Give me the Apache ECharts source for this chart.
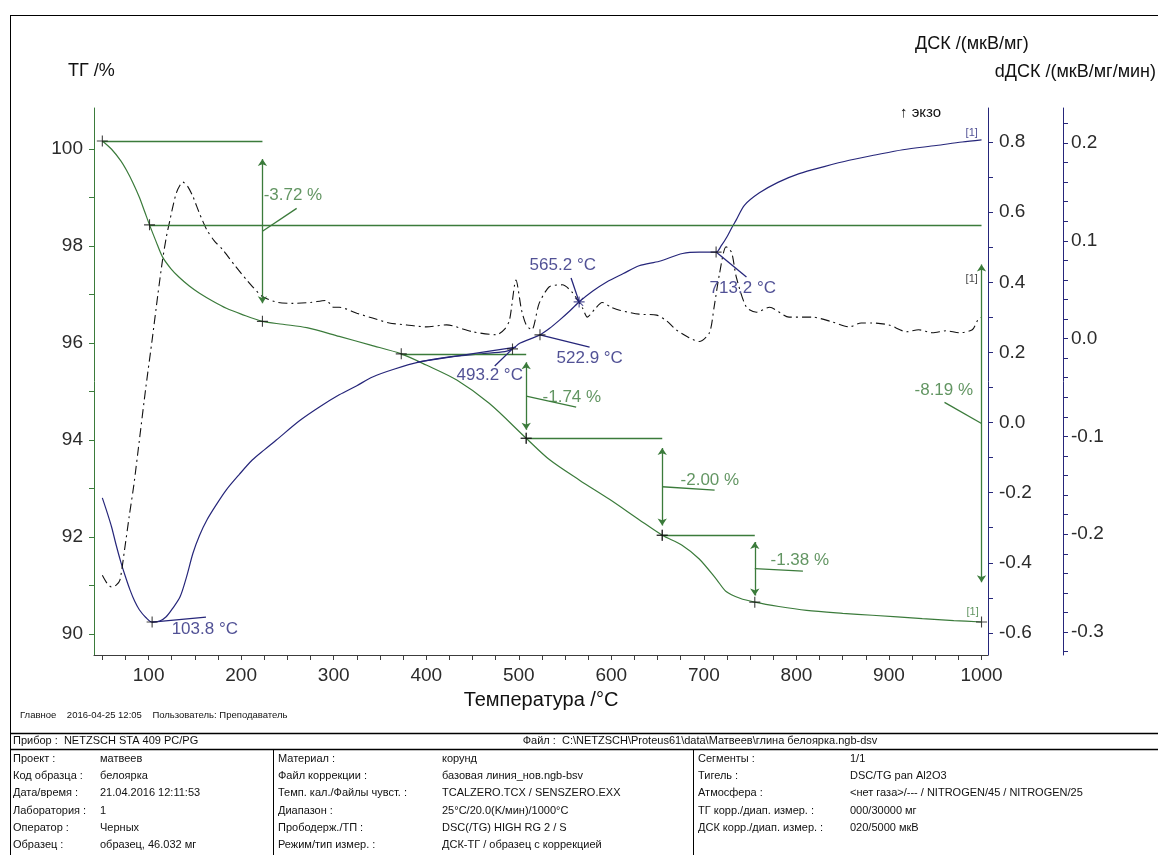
<!DOCTYPE html>
<html>
<head>
<meta charset="utf-8">
<script src="https://cdn.jsdelivr.net/npm/echarts@6/dist/echarts.min.js"></script>
<style>
html,body{margin:0;padding:0;background:#fff;}
#chart{width:1158px;height:855px;}
</style>
</head>
<body>
<div id="chart"></div>
<script>
// ---- measured curves ----
const tgTemp = [50, 60, 70, 76, 83, 90, 96, 101, 108, 115, 124, 133, 144, 155, 170, 184, 200, 223, 245, 271,
  306, 340, 373, 400, 433, 468, 508, 533, 566, 598, 630, 655, 676, 695, 714, 724, 739, 755, 781, 811,
  850, 882, 936, 970, 1000];
const tgMass = [100.17, 100.00, 99.76, 99.57, 99.31, 99.01, 98.70, 98.44, 98.10, 97.78, 97.54, 97.36, 97.18, 97.03, 96.86, 96.72, 96.60, 96.45, 96.39, 96.32,
  96.14, 95.96, 95.78, 95.55, 95.24, 94.76, 94.04, 93.60, 93.17, 92.78, 92.36, 92.04, 91.84, 91.55, 91.12, 90.88, 90.74, 90.66, 90.57, 90.49,
  90.43, 90.39, 90.32, 90.28, 90.25];

const dscTemp = [50, 55, 60, 65, 70, 75, 80, 85, 90, 97, 103.8, 112, 119, 126, 134, 141, 148, 155, 163, 173,
  184, 198, 212, 225, 238, 263, 285, 306, 325, 342, 365, 393, 425, 460, 485, 493.2, 501, 512, 522.9, 533,
  544, 555, 565.2, 580, 595, 613, 630, 652, 677, 695, 713.2, 719, 725, 730, 735, 744, 760, 780, 803, 830,
  857, 885, 915, 951, 979, 1000];
const dscVal = [-0.215, -0.255, -0.298, -0.350, -0.398, -0.440, -0.478, -0.510, -0.534, -0.556, -0.569, -0.566, -0.554, -0.530, -0.497, -0.440, -0.372, -0.322, -0.278, -0.235,
  -0.192, -0.148, -0.107, -0.078, -0.050, 0.005, 0.045, 0.079, 0.105, 0.130, 0.152, 0.173, 0.187, 0.196, 0.202, 0.210, 0.226, 0.238, 0.250, 0.268,
  0.292, 0.318, 0.344, 0.375, 0.401, 0.425, 0.447, 0.460, 0.482, 0.486, 0.486, 0.505, 0.530, 0.555, 0.578, 0.620, 0.655, 0.685, 0.710, 0.730,
  0.748, 0.763, 0.778, 0.790, 0.800, 0.806];

const ddscTemp = [50, 55, 60, 65, 69, 74, 79, 84, 90, 97, 104, 110, 115, 119, 123, 130, 137, 142, 148, 155,
  163, 171, 180, 193, 206, 223, 240, 256, 275, 292, 300, 306, 325, 342, 360, 379, 400, 422, 450, 476,
  485, 490, 497, 503, 508, 514, 522, 533, 547, 558, 569, 574, 582, 590, 600, 609, 630, 649, 660, 670,
  684, 695, 706, 711, 717, 724, 730, 735, 746, 757, 771, 792, 817, 839, 857, 870, 882, 900, 919, 932,
  947, 962, 976, 990, 996, 1000];
const ddscVal = [-0.242, -0.250, -0.254, -0.252, -0.247, -0.216, -0.182, -0.150, -0.104, -0.050, 0.000, 0.045, 0.080, 0.103, 0.121, 0.149, 0.160, 0.156, 0.145, 0.128,
  0.111, 0.100, 0.091, 0.075, 0.060, 0.043, 0.037, 0.036, 0.037, 0.039, 0.032, 0.032, 0.026, 0.021, 0.016, 0.014, 0.012, 0.014, 0.007, 0.004,
  0.010, 0.019, 0.060, 0.029, 0.014, 0.009, 0.036, 0.053, 0.055, 0.047, 0.031, 0.022, 0.030, 0.037, 0.032, 0.029, 0.025, 0.024, 0.018, 0.009,
  0.001, -0.003, 0.006, 0.032, 0.067, 0.094, 0.088, 0.063, 0.032, 0.027, 0.032, 0.022, 0.022, 0.017, 0.012, 0.016, 0.016, 0.014, 0.007, 0.009,
  0.006, 0.008, 0.006, 0.009, 0.019, 0.022];

// ---- evaluation results ----
// mass-loss steps: start temperature/mass, end temperature/mass
const stepFromT = [50, 373, 508, 655];
const stepFromM = [100.17, 95.78, 94.04, 92.04];
const stepToT = [223, 508, 655, 755];
const stepToM = [96.45, 94.04, 92.04, 90.66];
// overall mass change
const totalFrom = [101, 98.44];
const totalTo = [1000, 90.25];
// DSC characteristic temperatures and signal there
const peakT = [103.8, 493.2, 522.9, 565.2, 713.2];
const peakDsc = [-0.569, 0.210, 0.250, 0.344, 0.486];

// ---- axis ticks ----
const xTickLabels = [100, 200, 300, 400, 500, 600, 700, 800, 900, 1000];
const xTicks = [50, 75, 100, 125, 150, 175, 200, 225, 250, 275, 300, 325, 350, 375, 400, 425, 450, 475, 500,
  525, 550, 575, 600, 625, 650, 675, 700, 725, 750, 775, 800, 825, 850, 875, 900, 925, 950, 975, 1000];
const tgTickLabels = [90, 92, 94, 96, 98, 100];
const tgTicks = [90, 91, 92, 93, 94, 95, 96, 97, 98, 99, 100];
const dscTickLabels = [-0.6, -0.4, -0.2, 0.0, 0.2, 0.4, 0.6, 0.8];
const dscTicks = [-0.6, -0.5, -0.4, -0.3, -0.2, -0.1, 0.0, 0.1, 0.2, 0.3, 0.4, 0.5, 0.6, 0.7, 0.8];
const ddscTickLabels = [-0.3, -0.2, -0.1, 0.0, 0.1, 0.2];
const ddscTicks = [-0.32, -0.3, -0.28, -0.26, -0.24, -0.22, -0.2, -0.18, -0.16, -0.14, -0.12, -0.1, -0.08, -0.06, -0.04, -0.02,
  0.0, 0.02, 0.04, 0.06, 0.08, 0.1, 0.12, 0.14, 0.16, 0.18, 0.2, 0.22];

// ---- styling ----
const GREEN = '#3b7b3b';
const NAVY = '#26267a';
const BLACK = '#111111';
const FONT = '"Liberation Sans", Arial, sans-serif';

const zip = (a, b) => a.map((v, i) => [v, b[i]]);

// placement of the annotation texts / leaders (data coordinates)
const stepNoteLayout = [
  { leaderEnd: [260, 98.78], text: [224.3, 99.05] },
  { leaderEnd: [562, 94.68], text: [525.7, 94.89] },
  { leaderEnd: [711.6, 92.97], text: [674.8, 93.18] },
  { leaderEnd: [807, 91.30], text: [772, 91.53] }
];
const totalNoteLayout = { leaderEnd: [960, 94.78], text: [927.6, 95.03] };
const peakNoteLayout = [
  { leaderEnd: [162, -0.555], text: [124.9, -0.591] },
  { leaderEnd: [474, 0.161], text: [432.8, 0.136] },
  { leaderEnd: [576.5, 0.215], text: [540.8, 0.184] },
  { leaderEnd: [556.5, 0.412], text: [511.7, 0.449] },
  { leaderEnd: [746, 0.415], text: [706.2, 0.384] }
];
const onsetTangent = [[390, 0.172], [497, 0.215]];

const PLUS = 'path://M4.5,0H5.5V10H4.5Z M0,4.5H10V5.5H0Z';
const STAR = 'path://M4.5,0H5.5V10H4.5Z M0,4.5H10V5.5H0Z M1,1.7L1.7,1L9,8.3L8.3,9Z M8.3,1L9,1.7L1.7,9L1,8.3Z';

// green step lines, arrows, leaders and texts
const fmtPct = (d) => d.toFixed(2) + ' %';
const stepLevelLines = [];
const stepArrows = [];
const stepLeaders = [];
const stepTexts = [];
const stepMarks = [];
stepFromT.forEach((t0, i) => {
  const m0 = stepFromM[i], t1 = stepToT[i], m1 = stepToM[i];
  const span = m0 - m1;
  stepLevelLines.push({ coords: [[t0, m0], [t1, m0]] });
  stepArrows.push({ coords: [[t1, m0 - span * 0.1], [t1, m1 + span * 0.1]] });
  stepLeaders.push({ coords: [[t1, (m0 + m1) / 2], stepNoteLayout[i].leaderEnd] });
  stepTexts.push({ value: stepNoteLayout[i].text, name: fmtPct(m1 - m0) });
  stepMarks.push([t0, m0], [t1, m1]);
});
{
  const [t0, m0] = totalFrom, [t1, m1] = totalTo;
  const span = m0 - m1;
  stepLevelLines.push({ coords: [[t0, m0], [t1, m0]] });
  stepArrows.push({ coords: [[t1, m0 - span * 0.1], [t1, m1 + span * 0.1]] });
  stepLeaders.push({ coords: [[t1, (m0 + m1) / 2], totalNoteLayout.leaderEnd] });
  stepTexts.push({ value: totalNoteLayout.text, name: fmtPct(m1 - m0) });
  stepMarks.push([t0, m0], [t1, m1]);
}

// navy DSC evaluation marks
const peakLeaders = peakT.map((t, i) => ({ coords: [[t, peakDsc[i]], peakNoteLayout[i].leaderEnd] }));
peakLeaders.push({ coords: onsetTangent });
const peakTexts = peakT.map((t, i) => ({ value: peakNoteLayout[i].text, name: t.toFixed(1) + ' °C' }));
const peakPlus = peakT.map((t, i) => [t, peakDsc[i]]).filter((p, i) => i !== 3);
const peakStar = [[peakT[3], peakDsc[3]]];

function textSeries(yIdx, data, color, size) {
  return {
    type: 'scatter', yAxisIndex: yIdx, data: data, symbolSize: 0, silent: true, z: 5,
    itemStyle: { color: 'rgba(0,0,0,0)' },
    label: { show: true, position: [0, 0], align: 'left', verticalAlign: 'middle',
      formatter: (p) => p.name, color: color, fontSize: size, fontFamily: FONT }
  };
}
function segSeries(yIdx, data, color, arrows) {
  return {
    type: 'lines', coordinateSystem: 'cartesian2d', xAxisIndex: 0, yAxisIndex: yIdx, data: data,
    silent: true, z: 4,
    symbol: arrows ? ['arrow', 'arrow'] : ['none', 'none'], symbolSize: 7,
    lineStyle: { color: color, width: 1.3, opacity: 1, curveness: 0 }
  };
}
function markSeries(yIdx, data, symbol, color) {
  return {
    type: 'scatter', yAxisIndex: yIdx, data: data, symbol: symbol, symbolSize: 11, silent: true, z: 6,
    itemStyle: { color: color }
  };
}

const tickLabelStyle = { fontSize: 19, fontFamily: FONT, color: '#2b2b2b' };

// ---- page frame and info table ----
const graphics = [];
function hline(x1, x2, y, w) { graphics.push({ type: 'line', silent: true, shape: { x1, y1: y, x2, y2: y }, style: { stroke: '#000', lineWidth: w || 1 } }); }
function vline(x, y1, y2, w) { graphics.push({ type: 'line', silent: true, shape: { x1: x, y1, x2: x, y2 }, style: { stroke: '#000', lineWidth: w || 1 } }); }
function txt(x, y, s, size, color, align) {
  graphics.push({ type: 'text', silent: true, x: x, y: y,
    style: { text: s, fontSize: size, fontFamily: FONT, fill: color || '#000', align: align || 'left', verticalAlign: 'middle' } });
}
hline(10, 1158, 15.5);
vline(10.5, 15, 855);
hline(10, 1158, 733.5, 1.5);
hline(10, 1158, 749.5, 1.5);
vline(273.5, 749, 855);
vline(693.5, 749, 855);

// axis captions
txt(68, 71, 'ТГ /%', 18, '#111');
txt(915, 44, 'ДСК /(мкВ/мг)', 18, '#111');
txt(1156, 72, 'dДСК /(мкВ/мг/мин)', 18, '#111', 'right');
txt(900, 113, '↑ экзо', 15, '#111');
txt(541, 700, 'Температура /°C', 20, '#111', 'center');

// info block
txt(20, 715, 'Главное    2016-04-25 12:05    Пользователь: Преподаватель', 9.5, '#111');
txt(13, 741, 'Прибор :  NETZSCH STA 409 PC/PG', 11, '#111');
txt(700, 741, 'Файл :  C:\\NETZSCH\\Proteus61\\data\\Матвеев\\глина белоярка.ngb-dsv', 11, '#111', 'center');
const infoRows = [
  ['Проект :', 'матвеев', 'Материал :', 'корунд', 'Сегменты :', '1/1'],
  ['Код образца :', 'белоярка', 'Файл коррекции :', 'базовая линия_нов.ngb-bsv', 'Тигель :', 'DSC/TG pan Al2O3'],
  ['Дата/время :', '21.04.2016 12:11:53', 'Темп. кал./Файлы чувст. :', 'TCALZERO.TCX / SENSZERO.EXX', 'Атмосфера :', '<нет газа>/--- / NITROGEN/45 / NITROGEN/25'],
  ['Лаборатория :', '1', 'Диапазон :', '25°C/20.0(K/мин)/1000°C', 'ТГ корр./диап. измер. :', '000/30000 мг'],
  ['Оператор :', 'Черных', 'Прободерж./ТП :', 'DSC(/TG) HIGH RG 2 / S', 'ДСК корр./диап. измер. :', '020/5000 мкВ'],
  ['Образец :', 'образец, 46.032 мг', 'Режим/тип измер. :', 'ДСК-ТГ / образец с коррекцией', '', '']
];
const colX = [13, 100, 278, 442, 698, 850];
infoRows.forEach((row, r) => {
  row.forEach((s, c) => { if (s) txt(colX[c], 759 + r * 17.2, s, 11, '#111'); });
});

const option = {
  animation: false,
  backgroundColor: '#fff',
  grid: { left: 94, right: 170, top: 108, bottom: 200, containLabel: false },
  xAxis: {
    type: 'value', min: 41, max: 1007,
    axisLine: { show: true, onZero: false, lineStyle: { color: '#3c3c3c', width: 1 } },
    axisTick: { show: true, customValues: xTicks, length: 5, lineStyle: { color: '#3c3c3c' } },
    axisLabel: Object.assign({ customValues: xTickLabels, margin: 11, formatter: (v) => String(v) }, tickLabelStyle),
    splitLine: { show: false }
  },
  yAxis: [
    {
      type: 'value', position: 'left', min: 89.57, max: 100.85,
      axisLine: { show: true, onZero: false, lineStyle: { color: GREEN, width: 1 } },
      axisTick: { show: true, customValues: tgTicks, length: 5, lineStyle: { color: GREEN } },
      axisLabel: Object.assign({ customValues: tgTickLabels, margin: 11, formatter: (v) => String(Math.round(v)) }, tickLabelStyle),
      splitLine: { show: false }
    },
    {
      type: 'value', position: 'right', offset: 0, min: -0.663, max: 0.897,
      axisLine: { show: true, onZero: false, lineStyle: { color: NAVY, width: 1 } },
      axisTick: { show: true, customValues: dscTicks, length: 5, lineStyle: { color: NAVY } },
      axisLabel: Object.assign({ customValues: dscTickLabels, margin: 11, formatter: (v) => v.toFixed(1) }, tickLabelStyle),
      splitLine: { show: false }
    },
    {
      type: 'value', position: 'right', offset: 75, min: -0.3235, max: 0.2358,
      axisLine: { show: true, onZero: false, lineStyle: { color: NAVY, width: 1 } },
      axisTick: { show: true, customValues: ddscTicks, length: 5, lineStyle: { color: NAVY } },
      axisLabel: Object.assign({ customValues: ddscTickLabels, margin: 8, formatter: (v) => v.toFixed(1) }, tickLabelStyle),
      splitLine: { show: false }
    }
  ],
  series: [
    { name: 'ТГ', type: 'line', yAxisIndex: 0, data: zip(tgTemp, tgMass), showSymbol: false, symbol: 'none',
      smooth: 0.3, lineStyle: { color: GREEN, width: 1.2 }, silent: true, z: 3 },
    { name: 'ДСК', type: 'line', yAxisIndex: 1, data: zip(dscTemp, dscVal), showSymbol: false, symbol: 'none',
      smooth: 0.3, lineStyle: { color: NAVY, width: 1.2 }, silent: true, z: 3 },
    { name: 'dДСК', type: 'line', yAxisIndex: 2, data: zip(ddscTemp, ddscVal), showSymbol: false, symbol: 'none',
      smooth: 0.25, lineStyle: { color: BLACK, width: 1.1, type: [9, 4, 2, 4] }, silent: true, z: 3 },

    segSeries(0, stepLevelLines.concat(stepLeaders), GREEN, false),
    segSeries(0, stepArrows, GREEN, true),
    textSeries(0, stepTexts, GREEN, 17),
    markSeries(0, stepMarks, PLUS, BLACK),

    segSeries(1, peakLeaders, NAVY, false),
    textSeries(1, peakTexts, NAVY, 17),
    markSeries(1, peakPlus, PLUS, BLACK),
    markSeries(1, peakStar, STAR, NAVY),

    // curve end tags
    textSeries(1, [{ value: [982.8, 0.826], name: '[1]' }], NAVY, 11),
    textSeries(2, [{ value: [982.8, 0.061], name: '[1]' }], BLACK, 11),
    textSeries(0, [{ value: [983.8, 90.45], name: '[1]' }], GREEN, 11)
  ],
  graphic: graphics
};

const chart = echarts.init(document.getElementById('chart'), null, { renderer: 'canvas' });
chart.setOption(option);
</script>
</body>
</html>
